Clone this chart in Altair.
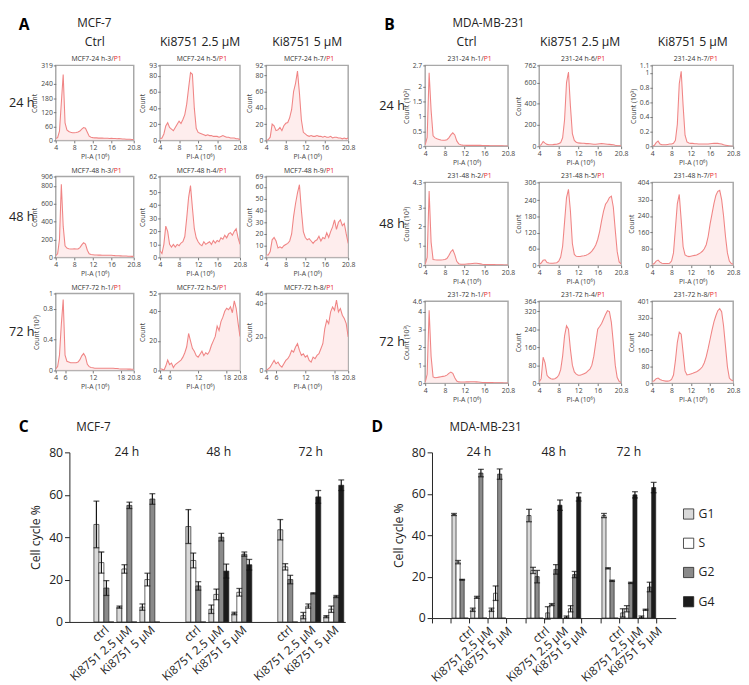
import altair as alt
import pandas as pd

FONT = "Open Sans"
LINE = "#f08585"
FILL = "#fde6e6"
FRAME = "#a8a8a8"
RED = "#e8262c"

# ---------------- histogram data (PI-A in 10^6, counts) ----------------
X_GRID = [4.0, 4.4, 4.8, 5.2, 5.6, 6.0, 6.4, 6.8, 7.2, 7.6, 8.0, 8.4, 8.8, 9.2, 9.6,
          10.0, 10.4, 10.8, 11.2, 11.6, 12.0, 12.4, 12.8, 13.2, 13.6, 14.0, 14.4,
          14.8, 15.2, 15.6, 16.0, 16.4, 16.8, 17.2, 17.6, 18.0, 18.4, 18.8, 19.2,
          19.6, 20.0, 20.4, 20.8]

A_24_CTRL = [8, 12, 40, 160, 280, 75, 45, 38, 35, 33,
             33, 34, 36, 40, 48, 55, 52, 35, 18, 14,
             12, 11, 11, 10, 10, 10, 9, 9, 9, 8,
             9, 8, 8, 7, 8, 7, 6, 6, 5, 5,
             5, 4, 4]
A_24_K25 = [2, 3, 8, 18, 22, 16, 14, 12, 16, 20,
            24, 21, 26, 32, 45, 65, 84, 82, 40, 15,
            10, 9, 8, 7, 6, 7, 6, 6, 5, 5,
            5, 4, 5, 6, 5, 4, 4, 3, 3, 3,
            2, 2, 1]
A_24_K5 = [0, 1, 4, 20, 18, 12, 13, 16, 12, 18,
           21, 22, 28, 38, 60, 70, 85, 58, 25, 10,
           8, 6, 5, 6, 5, 5, 6, 5, 5, 4,
           5, 4, 4, 5, 3, 4, 4, 3, 3, 2,
           3, 2, 3]
A_48_CTRL = [20, 40, 200, 820, 350, 130, 105, 98, 95, 95,
             97, 94, 95, 110, 140, 165, 150, 80, 40, 32,
             30, 28, 27, 26, 26, 25, 25, 25, 24, 24,
             25, 22, 20, 19, 18, 17, 16, 15, 15, 14,
             13, 12, 12]
A_48_K25 = [5, 3, 10, 24, 20, 10, 8, 10, 8, 10,
            9, 11, 12, 16, 30, 46, 55, 38, 22, 15,
            12, 10, 9, 12, 10, 11, 12, 10, 13, 11,
            13, 12, 15, 14, 17, 15, 18, 19, 17, 20,
            22, 15, 10]
A_48_K5 = [2, 2, 5, 15, 17, 14, 8, 9, 8, 10,
           11, 12, 14, 20, 35, 46, 55, 62, 40, 22,
           17, 15, 16, 14, 12, 14, 15, 18, 14, 17,
           16, 21, 17, 22, 26, 32, 24, 30, 32, 27,
           29, 20, 12]
A_72_CTRL = [0.02, 0.05, 0.2, 0.6, 0.92, 0.2, 0.12, 0.11, 0.1, 0.1,
             0.1, 0.1, 0.11, 0.14, 0.19, 0.22, 0.18, 0.08, 0.05, 0.04,
             0.035, 0.03, 0.03, 0.03, 0.03, 0.03, 0.03, 0.03, 0.03, 0.03,
             0.03, 0.028, 0.025, 0.025, 0.022, 0.02, 0.02, 0.02, 0.02, 0.018,
             0.018, 0.015, 0.015]
A_72_K25 = [1, 1, 0, 3, 7, 4, 5, 2, 4, 5,
            6, 7, 9, 12, 16, 25, 20, 15, 13, 10,
            9, 11, 13, 10, 12, 11, 13, 17, 20, 23,
            30, 27, 33, 36, 40, 42, 41, 43, 39, 47,
            42, 32, 23]
A_72_K5 = [0, 1, 2, 4, 6, 4, 5, 3, 2, 4,
           6, 7, 9, 12, 11, 14, 16, 12, 9, 10,
           8, 9, 6, 5, 8, 7, 9, 10, 13, 16,
           25, 30, 28, 35, 38, 36, 42, 35, 37, 33,
           31, 28, 20]

B_24_CTRL = [0.05, 0.3, 2.45, 1.2, 0.35, 0.28, 0.25, 0.23, 0.21, 0.2,
             0.2, 0.22, 0.28, 0.38, 0.45, 0.38, 0.18, 0.08, 0.05, 0.04,
             0.035, 0.03, 0.03, 0.03, 0.03, 0.03, 0.03, 0.03, 0.03, 0.025,
             0.025, 0.025, 0.025, 0.02, 0.02, 0.02, 0.02, 0.015, 0.015, 0.015,
             0.01, 0.01, 0.01]
B_24_K25 = [5, 15, 45, 30, 18, 15, 15, 16, 18, 20,
            25, 35, 80, 250, 600, 700, 380, 120, 55, 38,
            32, 30, 28, 28, 25, 25, 24, 22, 20, 20,
            22, 24, 25, 24, 22, 20, 18, 16, 14, 10,
            7, 5, 4]
B_24_K5 = [0, 0.01, 0.05, 0.07, 0.03, 0.02, 0.02, 0.02, 0.025, 0.03,
           0.03, 0.04, 0.08, 0.3, 0.85, 1.02, 0.55, 0.15, 0.06, 0.045,
           0.04, 0.04, 0.035, 0.035, 0.03, 0.03, 0.03, 0.03, 0.03, 0.032,
           0.035, 0.038, 0.04, 0.04, 0.04, 0.035, 0.03, 0.02, 0.015, 0.01,
           0.005, 0.0, 0.0]
B_48_CTRL = [0.05, 0.4, 3.85, 1.2, 0.3, 0.28, 0.27, 0.27, 0.27, 0.28,
             0.3, 0.35, 0.5, 0.7, 0.8, 0.55, 0.2, 0.08, 0.05, 0.05,
             0.05, 0.06, 0.07, 0.08, 0.09, 0.1, 0.1, 0.09, 0.07, 0.05,
             0.04, 0.04, 0.03, 0.03, 0.03, 0.03, 0.02, 0.02, 0.02, 0.02,
             0.01, 0.01, 0.01]
B_48_K25 = [3, 8, 18, 20, 10, 8, 7, 7, 8, 9,
            15, 30, 70, 160, 250, 280, 200, 80, 40, 33,
            32, 32, 34, 35, 37, 40, 45, 52, 62, 75,
            95, 125, 165, 200, 225, 235, 250, 255, 215, 130,
            50, 12, 5]
B_48_K5 = [3, 8, 20, 25, 15, 10, 8, 8, 8, 10,
           20, 60, 180, 300, 345, 220, 90, 50, 45, 42,
           44, 46, 48, 50, 55, 60, 68, 80, 100, 140,
           200, 250, 300, 340, 360, 365, 320, 240, 140, 60,
           20, 8, 5]
B_72_CTRL = [0.05, 0.5, 4.1, 1.5, 0.35, 0.3, 0.32, 0.34, 0.36, 0.38,
             0.4, 0.45, 0.55, 0.62, 0.55, 0.3, 0.12, 0.07, 0.06, 0.06,
             0.06, 0.07, 0.07, 0.08, 0.08, 0.08, 0.07, 0.06, 0.05, 0.04,
             0.04, 0.035, 0.03, 0.03, 0.03, 0.025, 0.02, 0.02, 0.02, 0.015,
             0.01, 0.01, 0.01]
B_72_K25 = [5, 20, 115, 90, 35, 25, 20, 18, 20, 25,
            35, 60, 120, 210, 255, 240, 150, 80, 50, 40,
            35, 35, 38, 42, 46, 55, 62, 80, 120, 180,
            240, 252, 265, 285, 305, 322, 318, 270, 180, 80,
            25, 8, 3]
B_72_K5 = [8, 12, 22, 25, 18, 14, 12, 10, 10, 12,
           18, 40, 110, 200, 250, 240, 150, 60, 40, 42,
           45, 48, 52, 56, 62, 70, 80, 100, 130, 170,
           215, 260, 300, 330, 355, 365, 350, 280, 180, 80,
           25, 15, 12]

# axis maxima / tick values / names
A_YMAX = [[319, 93, 92], [906, 62, 69], [1, 52, 46]]
A_YTICKS = [[[0, 60, 120, 180, 240, 319], [0, 20, 40, 60, 80, 93], [0, 20, 40, 60, 80, 92]],
            [[0, 200, 400, 600, 800, 906], [0, 10, 20, 30, 40, 50, 62], [0, 10, 20, 30, 40, 50, 60, 69]],
            [[0, 0.4, 0.8, 1], [0, 20, 40, 52], [0, 20, 40, 46]]]
A_YTITLE = [["Count", "Count", "Count"], ["Count", "Count", "Count"], ["Count (10³)", "Count", "Count"]]
A_NAMES = [["MCF7-24 h-3", "MCF7-24 h-5", "MCF7-24 h-7"],
           ["MCF7-48 h-3", "MCF7-48 h-4", "MCF7-48 h-9"],
           ["MCF7-72 h-1", "MCF7-72 h-5", "MCF7-72 h-8"]]
A_XTICKS = [[4, 8, 12, 16, 20.8], [4, 8, 12, 16, 20.8], [4, 6, 12, 18, 20.8]]
A_DATA = [[A_24_CTRL, A_24_K25, A_24_K5], [A_48_CTRL, A_48_K25, A_48_K5], [A_72_CTRL, A_72_K25, A_72_K5]]

B_YMAX = [[2.7, 762, 1.1], [4.3, 306, 404], [4.6, 364, 401]]
B_YTICKS = [[[0, 0.5, 1, 1.5, 2, 2.7], [0, 200, 400, 600, 762], [0, 0.2, 0.4, 0.6, 0.8, 1, 1.1]],
            [[0, 1, 2, 3, 4.3], [0, 60, 120, 180, 240, 306], [0, 80, 160, 240, 320, 404]],
            [[0, 1, 2, 3, 4, 4.6], [0, 80, 160, 240, 320, 364], [0, 80, 160, 240, 320, 401]]]
B_YTITLE = [["Count (10³)", "Count", "Count (10³)"], ["Count (10³)", "Count", "Count"], ["Count (10³)", "Count", "Count"]]
B_NAMES = [["231-24 h-1", "231-24 h-6", "231-24 h-7"],
           ["231-48 h-2", "231-48 h-5", "231-48 h-7"],
           ["231-72 h-1", "231-72 h-4", "231-72 h-8"]]
B_XTICKS = [[4, 8, 12, 16, 20.8]] * 3
B_DATA = [[B_24_CTRL, B_24_K25, B_24_K5], [B_48_CTRL, B_48_K25, B_48_K5], [B_72_CTRL, B_72_K25, B_72_K5]]

COL_HEADERS = ["Ctrl", "Ki8751 2.5 μM", "Ki8751 5 μM"]
ROW_LABELS = ["24 h", "48 h", "72 h"]

# ---------------- bar chart data ----------------
TIMES = ["24 h", "48 h", "72 h"]
TREATS = ["ctrl", "Ki8751 2.5 μM", "Ki8751 5 μM"]
PHASES = ["G1", "S", "G2", "G4"]
PHASE_COLORS = ["#d9d9d9", "#ffffff", "#8a8a8a", "#1c1c1c"]

C_MEAN = [[46, 28, 16, 0], [7, 25, 55, 0], [7, 20, 58, 0],
          [45, 29, 17, 0], [6, 13, 40, 24], [4, 14, 32, 27],
          [43.5, 26, 20, 0], [3, 7.5, 13.5, 59], [2.5, 6, 12, 64.5]]
C_SD = [[11, 5, 3.5, 0], [0.5, 2, 1.5, 0], [1.5, 3, 2.5, 0],
        [8, 3.5, 2, 0], [2, 2.5, 1.8, 3.3], [0.6, 1.8, 1, 2.5],
        [4.8, 1.5, 2, 0], [1.5, 1, 0.3, 3], [0.5, 1.5, 0.5, 2.5]]
D_MEAN = [[50, 27, 18.5, 0], [4, 10, 70, 0], [4, 12, 69.5, 0],
          [49.5, 23, 20, 0], [2.5, 6.5, 23.5, 54.5], [0.5, 4.5, 21, 58.5],
          [49.5, 24, 18, 0], [2.5, 4.5, 17, 59.5], [0.5, 4, 15, 63]]
D_SD = [[0.5, 0.8, 0.2, 0], [0.8, 0.5, 1.8, 0], [0.8, 3.5, 2.5, 0],
        [3, 1.5, 3, 0], [3, 0.5, 2.3, 2.5], [0.5, 1.5, 1.5, 2],
        [1, 0.3, 0.3, 0], [2, 1.5, 0.3, 1.5], [0.5, 0.3, 2.3, 2.5]]

NUM_LABEL = "format(datum.value, '~f')"


def txt(s, x, y, size, color="#222", align="left", baseline="middle", weight="normal", opacity=1):
    return alt.Chart(pd.DataFrame({"t": [s]})).mark_text(
        align=align, baseline=baseline, fontSize=size, color=color, font=FONT,
        fontWeight=weight, opacity=opacity
    ).encode(x=alt.value(x), y=alt.value(y), text="t:N")


def spacer(w, h):
    return alt.Chart(pd.DataFrame({"v": [0]})).mark_point(opacity=0, size=1).encode(
        x=alt.value(0), y=alt.value(0)).properties(width=w, height=h)


def hist(ys, ymax, yticks, ytitle, xticks, name, w, h, extra):
    df = pd.DataFrame({"x": X_GRID, "y": ys})
    common = dict(grid=False, domain=False, tickSize=2.5, tickColor="#777", labelFontSize=7,
                  titleFontSize=7, labelPadding=1, labelColor="#444", titleColor="#444",
                  titleFontWeight="normal", labelOverlap=False, labelFlush=False,
                  labelExpr=NUM_LABEL)
    area = alt.Chart(df).mark_area(
        color=FILL, clip=True, line=alt.OverlayMarkDef(color=LINE, strokeWidth=1.1)
    ).encode(
        x=alt.X("x:Q", scale=alt.Scale(domain=[4, 20.8], nice=False, zero=False),
                axis=alt.Axis(values=xticks, title="PI-A (10⁶)", titlePadding=2, **common)),
        y=alt.Y("y:Q", scale=alt.Scale(domain=[0, ymax], nice=False),
                axis=alt.Axis(values=yticks, title=ytitle, titlePadding=3, **common)),
    )
    split_x = w / 2 + (len(name) - 1) * 3.9 / 2
    layers = [area,
              txt(name + "/", split_x, -3, 7, color="#333", align="right", baseline="bottom"),
              txt("P1", split_x, -3, 7, color=RED, align="left", baseline="bottom")]
    layers += extra
    return alt.layer(*layers).properties(
        width=w, height=h, view=alt.ViewBackground(stroke=FRAME, strokeWidth=1.5))


def block(data, ymaxs, yticks, ytitles, xticks, names, widths, heights, rowlab_x, letter, letter_x,
          cell, cell_x, colspacing):
    charts = []
    for r in range(3):
        for c in range(3):
            extra = []
            w, h = widths[c], heights[r]
            if r == 0:
                extra.append(txt(COL_HEADERS[c], w / 2, -24, 12.5, color="#222", align="center"))
            if c == 0:
                extra.append(txt(ROW_LABELS[r], rowlab_x, h / 2, 13, color="#222"))
            if r == 0 and c == 0:
                extra.append(txt(letter, letter_x, -49, 16, color="#000", baseline="top", weight="bold"))
                extra.append(txt(cell, cell_x, -48, 12, color="#222", baseline="top"))
            charts.append(hist(data[r][c], ymaxs[r][c], yticks[r][c], ytitles[r][c], xticks[r],
                               names[r][c], w, h, extra))
    return alt.concat(*charts, columns=3, spacing={"row": 37, "column": colspacing}, bounds="flush")


A_block = block(A_DATA, A_YMAX, A_YTICKS, A_YTITLE, A_XTICKS, A_NAMES,
                [80, 82, 84], [77, 83, 79], -48, "A", -38, "MCF-7", 22, 27)
B_block = block(B_DATA, B_YMAX, B_YTICKS, B_YTITLE, B_XTICKS, B_NAMES,
                [85, 84, 83], [83, 85, 84], -47, "B", -42, "MDA-MB-231", 28, 32)


def bar_chart(means, sds, cats, w, h, ystep, legend, letter, letter_x, cell, cell_x, ticks):
    rows = []
    for ti, t in enumerate(TIMES):
        for ri, r in enumerate(TREATS):
            for pi, p in enumerate(PHASES):
                m = means[ti * 3 + ri][pi]
                s = sds[ti * 3 + ri][pi]
                rows.append({"cat": f"{t}|{r}", "phase": p, "mean": m, "lo": m - s, "hi": m + s})
    df = pd.DataFrame(rows)
    slot = w / len(cats)
    axargs = dict(title=None, labelAngle=-41, labelFontSize=12, labelColor="#222",
                  labelExpr="indexof(datum.value, '|') < 0 ? '' : split(datum.value, '|')[1]",
                  domainColor="#222", tickColor="#222", tickSize=5, labelPadding=2, grid=False)
    if ticks:
        xaxis = alt.Axis(ticks=True, bandPosition=0, labelOffset=slot / 2, **axargs)
    else:
        xaxis = alt.Axis(ticks=False, **axargs)
    xenc = alt.X("cat:N", sort=cats, scale=alt.Scale(domain=cats, paddingInner=0, paddingOuter=0),
                 axis=xaxis)
    xoff = alt.XOffset("phase:N", sort=PHASES,
                       scale=alt.Scale(domain=PHASES, paddingInner=0, paddingOuter=0.3))
    yscale = alt.Scale(domain=[0, 80], nice=False)
    yaxis = alt.Axis(values=list(range(0, 81, ystep)), title="Cell cycle %", labelFontSize=12.5,
                     titleFontSize=12.5, titleFontWeight="normal", domainColor="#222",
                     tickColor="#222", tickSize=5, grid=False, labelColor="#222",
                     titleColor="#222", titlePadding=6)
    if legend:
        leg = alt.Legend(title=None, orient="none", legendX=257, legendY=57, symbolType="square",
                         symbolSize=110, symbolStrokeColor="#222", symbolStrokeWidth=0.8,
                         labelFontSize=12.5, labelColor="#222", rowPadding=15, labelOffset=4)
    else:
        leg = None
    cenc = alt.Color("phase:N", scale=alt.Scale(domain=PHASES, range=PHASE_COLORS), legend=leg)
    base = alt.Chart(df)
    bars = base.mark_bar(stroke="#222", strokeWidth=0.7).encode(
        x=xenc, xOffset=xoff, y=alt.Y("mean:Q", scale=yscale, axis=yaxis), color=cenc)
    nz = base.transform_filter("datum.mean > 0")
    err = nz.mark_rule(color="#111", strokeWidth=1.2).encode(
        x=xenc, xOffset=xoff, y=alt.Y("lo:Q", scale=yscale), y2="hi:Q")
    cap_hi = nz.mark_tick(color="#111", thickness=1.3, size=6).encode(
        x=xenc, xOffset=xoff, y=alt.Y("hi:Q", scale=yscale))
    cap_lo = nz.mark_tick(color="#111", thickness=1.3, size=6).encode(
        x=xenc, xOffset=xoff, y=alt.Y("lo:Q", scale=yscale))
    tdf = pd.DataFrame({"cat": [f"{t}|{TREATS[1]}" for t in TIMES], "label": TIMES, "yv": [80] * 3})
    tlab = alt.Chart(tdf).mark_text(fontSize=12.5, color="#222", font=FONT, baseline="middle").encode(
        x=xenc, y=alt.Y("yv:Q", scale=yscale), text="label:N")
    layers = [bars, err, cap_hi, cap_lo, tlab,
              txt(letter, letter_x, -26, 16, color="#000", weight="bold"),
              txt(cell, cell_x, -26, 12, color="#222")]
    return alt.layer(*layers).properties(width=w, height=h)


C_CATS = ["g0"] + [f"24 h|{r}" for r in TREATS] + ["g1"] + [f"48 h|{r}" for r in TREATS] + \
         ["g2"] + [f"72 h|{r}" for r in TREATS]
D_CATS = C_CATS + ["g3"]

C_chart = bar_chart(C_MEAN, C_SD, C_CATS, 283, 174, 20, False, "C", -52, "MCF-7", 7, False)
D_chart = bar_chart(D_MEAN, D_SD, D_CATS, 250, 170, 10, True, "D", -62, "MDA-MB-231", 18, True)

# bottom row: a 14 px lead spacer puts panel C's axis 14 px right of panel A's plots
CD = alt.hconcat(spacer(14, 1), C_chart, spacer(89, 1), D_chart, spacing=0, bounds="flush").resolve_scale(
    color="independent", xOffset="independent")
AB = alt.hconcat(A_block, B_block, spacing=23)

chart = alt.vconcat(AB, CD, spacing=16).properties(
    padding={"left": 0, "top": 0, "right": 0, "bottom": 0},
    autosize=alt.AutoSizeParams(type="pad")
).configure_view(stroke=None).configure_axis(labelFont=FONT, titleFont=FONT).configure_text(
    font=FONT).configure_legend(labelFont=FONT)

chart.save("out.html", embed_options={"renderer": "svg", "actions": False})
